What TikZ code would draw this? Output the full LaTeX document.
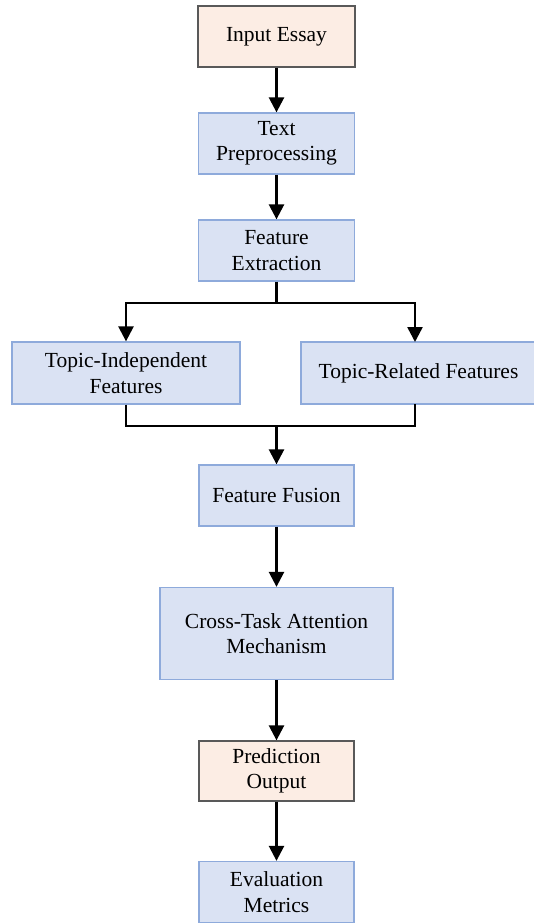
\documentclass[tikz,border=0pt]{standalone}
\usepackage{fontspec}
\setmainfont{Liberation Serif}
\usetikzlibrary{arrows.meta}
\definecolor{bluefill}{HTML}{DAE2F3}
\definecolor{blueline}{HTML}{8EAADB}
\definecolor{peachfill}{HTML}{FCEDE4}
\definecolor{peachline}{HTML}{595959}
\begin{document}
\begin{tikzpicture}[x=1pt,y=-1pt,
  box/.style={draw=blueline,fill=bluefill,line width=1.3pt,align=center,inner sep=0pt,
    font=\fontsize{21.5pt}{25.5pt}\selectfont},
  pbox/.style={box,draw=peachline,fill=peachfill},
  conn/.style={line width=2.5pt,black},
  arr/.style={conn,-{Triangle[width=15pt,length=15pt]}}]
\useasboundingbox (0,0) rectangle (534,924);
\node[pbox,minimum width=157pt,minimum height=61pt] (inp) at (276.5,36.5) {Input Essay};
\node[box,minimum width=156pt,minimum height=61pt] (pre) at (276.5,143.5) {Text\\Preprocessing};
\node[box,minimum width=156pt,minimum height=61pt] (fe) at (276.5,250.5) {Feature\\Extraction};
\node[box,minimum width=228pt,minimum height=62pt] (ti) at (126,373) {Topic-Independent\\Features};
\node[box,minimum width=235pt,minimum height=62pt] (tr) at (418.5,373) {Topic-Related Features};
\node[box,minimum width=155pt,minimum height=61pt] (ff) at (276.5,495.5) {Feature Fusion};
\node[box,minimum width=233pt,minimum height=92pt] (ct) at (276.5,633.5) {Cross-Task Attention\\Mechanism};
\node[pbox,minimum width=155pt,minimum height=60pt] (po) at (276.5,771) {Prediction\\Output};
\node[box,minimum width=155pt,minimum height=61pt] (em) at (276.5,892) {Evaluation\\Metrics};
\coordinate (split) at (276.5,303);
\coordinate (join) at (276.5,426);
\coordinate (trin) at (415,342);
\coordinate (trout) at (415,404);
\draw[arr] (inp) -- (pre);
\draw[arr] (pre) -- (fe);
\draw[conn] (fe.south) -- (split);
\draw[arr] (split) -| (ti.north);
\draw[arr] (split) -| (trin);
\draw[conn] (ti.south) |- (join);
\draw[conn] (trout) |- (join);
\draw[arr] (join) -- (ff.north);
\draw[arr] (ff) -- (ct);
\draw[arr] (ct) -- (po);
\draw[arr] (po) -- (em);
\end{tikzpicture}
\end{document}
